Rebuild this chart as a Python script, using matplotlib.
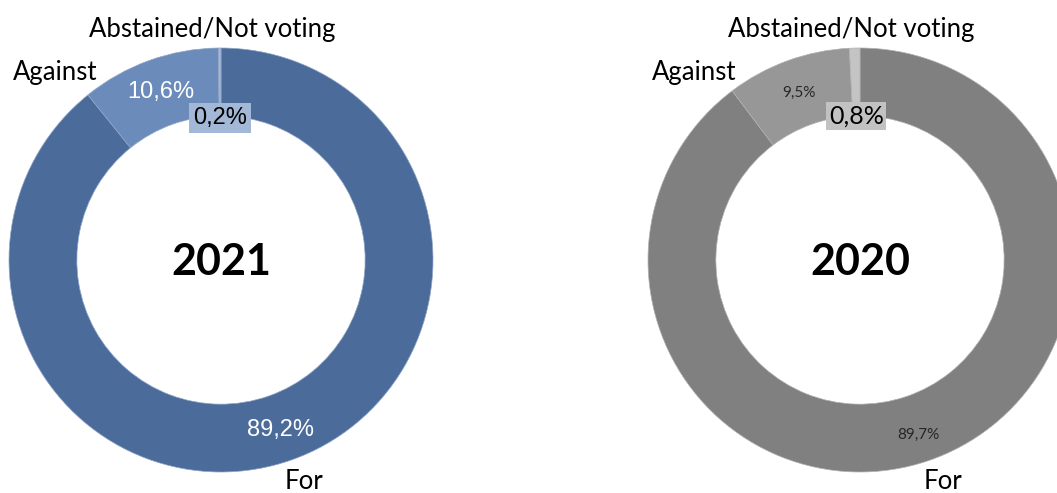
import numpy as np
import matplotlib.pyplot as plt

# vote shares, clockwise from 12 o'clock
categories = ['For', 'Against', 'Abstained/Not voting']
years = ['2021', '2020']
votes_2021 = [89.2, 10.6, 0.2]
votes_2020 = [89.7, 9.5, 0.8]
pct_2021 = ['89,2%', '10,6%', '0,2%']
pct_2020 = ['89,7%', '9,5%', '0,8%']

colors_2021 = ['#4b6b9b', '#6b8cbb', '#a3b7d6']
colors_2020 = ['#808080', '#979797', '#c4c4c4']

W, H = 1057, 493
R = 212          # outer radius in px
RING = 0.32      # ring width as fraction of radius

fig = plt.figure(figsize=(W / 100, H / 100), dpi=100)
ax = fig.add_axes([0, 0, 1, 1])


def donut(cx, cy, vals, pcts, colors, year, pct_style, edge):
    wedges, _ = ax.pie(vals, center=(cx, cy), radius=R, startangle=90,
                       counterclock=False, colors=colors, frame=True,
                       wedgeprops=dict(width=R * RING, edgecolor=edge,
                                       linewidth=0.5))
    for i, w in enumerate(wedges):
        ang = np.deg2rad((w.theta1 + w.theta2) / 2)
        st = pct_style[i]
        d = st['dist']
        tx = cx + d * R * np.cos(ang)
        ty = cy + d * R * np.sin(ang)
        ax.text(tx, ty, pcts[i], ha='center', va='center',
                fontsize=st['size'], color=st['color'], family=st['family'],
                bbox=st.get('bbox'))
    ax.text(cx, cy - 2, year, ha='center', va='center', fontsize=31,
            fontweight='bold', family='Lato')

    # category labels around the ring
    lab = {'For': (0.39, -1.045), 'Against': (-0.78, 0.885),
           'Abstained/Not voting': (-0.04, 1.085)}
    for c in categories:
        ox, oy = lab[c]
        ax.text(cx + ox * R, cy + oy * R, c, ha='center', va='center',
                fontsize=18.5, family='Lato')


cy = H - 260
style_2021 = [
    dict(dist=0.85, size=17, color='white', family='Liberation Sans'),
    dict(dist=0.84, size=17, color='white', family='Liberation Sans'),
    dict(dist=0.67, size=17, color='black', family='Liberation Sans',
         bbox=dict(boxstyle='square,pad=0.18', fc='#a3b7d6', ec='none')),
]
style_2020 = [
    dict(dist=0.87, size=11, color='#262626', family='Lato'),
    dict(dist=0.84, size=11, color='#262626', family='Lato'),
    dict(dist=0.68, size=18, color='black', family='Lato',
         bbox=dict(boxstyle='square,pad=0.1', fc='#c2c2c2', ec='none')),
]

donut(221, cy, votes_2021, pct_2021, colors_2021, years[0], style_2021,
      '#8fa5c6')
donut(860, cy, votes_2020, pct_2020, colors_2020, years[1], style_2020,
      '#b0b0b0')

ax.set_xlim(0, W)
ax.set_ylim(0, H)
ax.axis('off')

fig.savefig('out.png', dpi=100, facecolor='white')
